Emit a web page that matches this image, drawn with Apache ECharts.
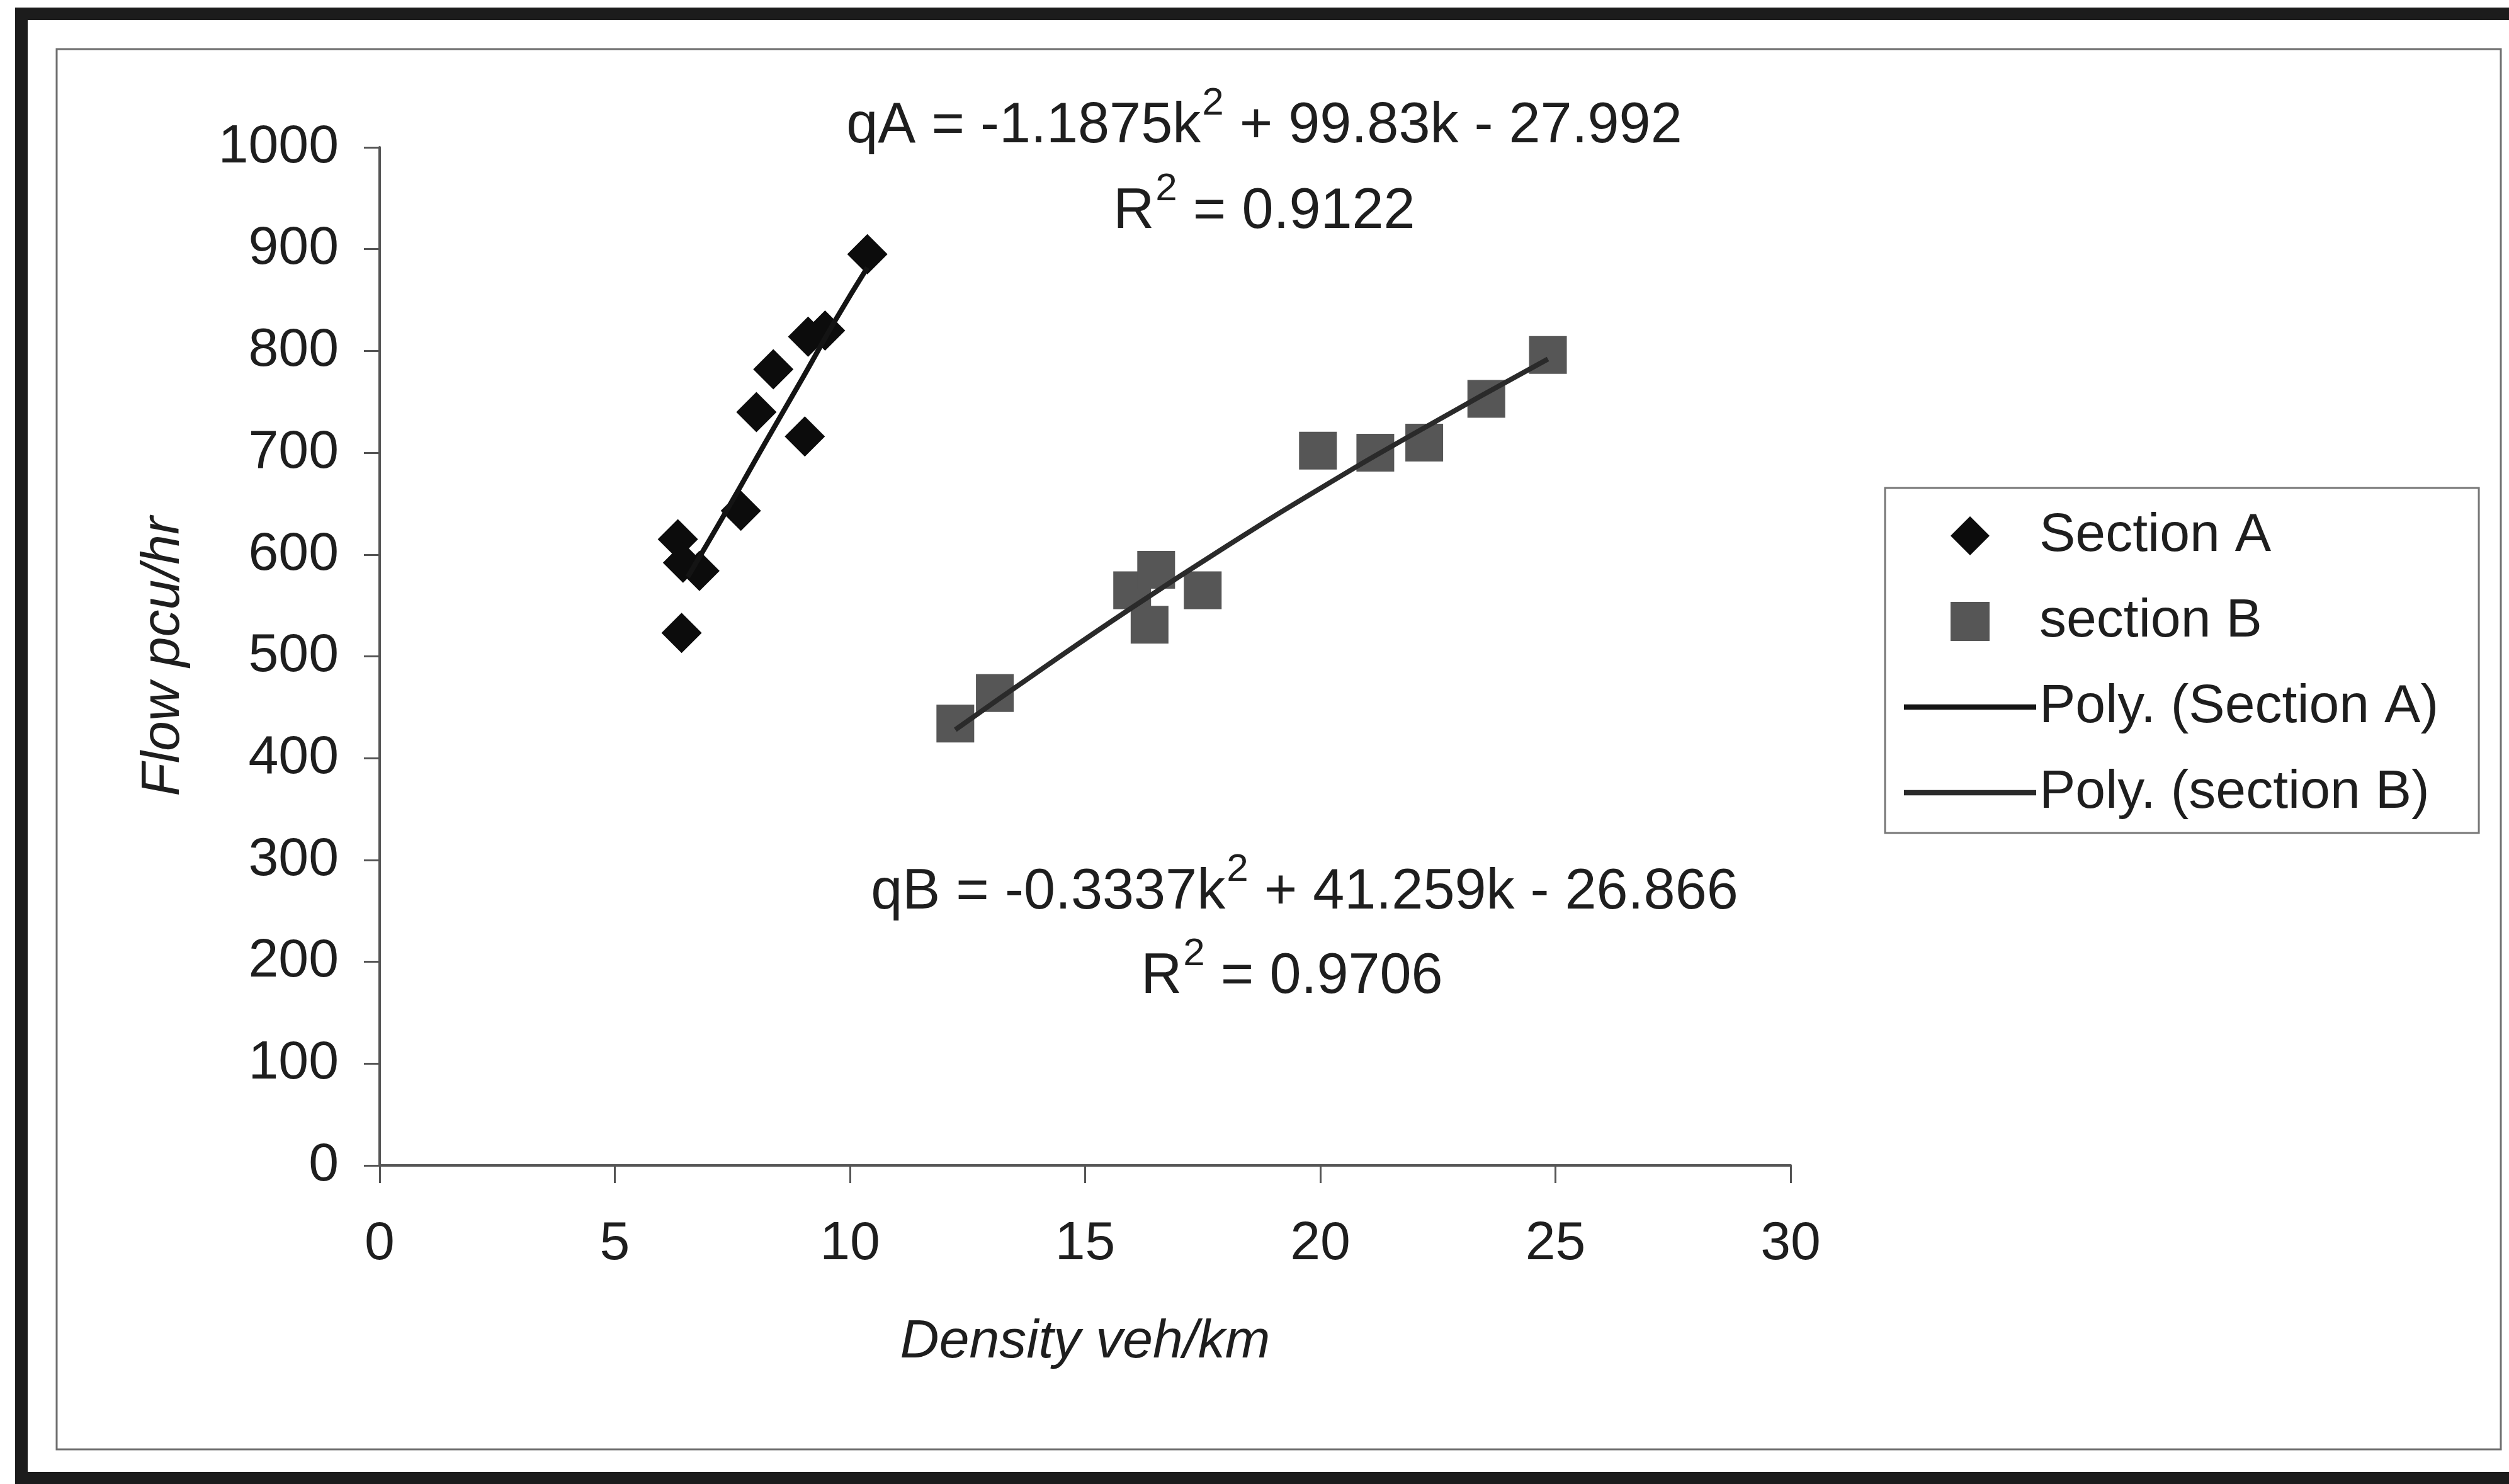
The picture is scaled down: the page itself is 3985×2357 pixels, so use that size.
<!DOCTYPE html>
<html>
<head>
<meta charset="utf-8">
<title>Flow - Density</title>
<script src="https://cdn.jsdelivr.net/npm/echarts@6/dist/echarts.min.js"></script>
<style>
  html, body { margin: 0; padding: 0; background: #fff; }
  #chart { width: 3985px; height: 2357px; }
</style>
</head>
<body>
<div id="chart"></div>
<script>
// observed points, density (veh/km) vs flow (pcu/hr)
const sectionA_k = [10.37, 9.11, 9.47, 8.37, 8.01, 9.04, 7.68, 6.34, 6.45, 6.8, 6.42];
const sectionA_q = [895, 814, 820, 782, 740, 716, 643, 615, 592, 584, 523];
const sectionB_k = [12.24, 13.08, 16.0, 16.51, 16.37, 17.5, 19.95, 21.17, 22.21, 23.53, 24.84];
const sectionB_q = [434, 464, 565, 585, 531, 565, 702, 700, 710, 753, 796];

// points
const polyA_k = [6.55, 7.4, 8.2, 9.0, 9.7, 10.37];
const polyA_q = [578, 645, 710, 774, 831, 882];
const polyB_k = [12.24, 14, 16, 18, 20, 22, 24.84];
const polyB_q = [428, 485, 548, 608, 665, 719, 792];

const xTicks = [0, 30, 5];
const yTicks = [0, 1000, 100];

const eqA = ['qA = -1.1875k', '2', ' + 99.83k - 27.992'];
const r2A = ['R', '2', ' = 0.9122'];
const eqB = ['qB = -0.3337k', '2', ' + 41.259k - 26.866'];
const r2B = ['R', '2', ' = 0.9706'];

const FONT = '"Liberation Sans", Arial, sans-serif';
const TXT = '#1e1e1e';

function pairs(xs, ys) {
  return xs.map((x, i) => [x, ys[i]]);
}

// text with a raised "2"
function eqText(parts, cx, cy) {
  return {
    type: 'text',
    x: cx,
    y: cy,
    z: 10,
    style: {
      text: '{a|' + parts[0] + '}{s|' + parts[1] + '}{a|' + parts[2] + '}',
      align: 'center',
      verticalAlign: 'middle',
      rich: {
        a: { fontFamily: FONT, fontSize: 90, lineHeight: 112, fill: TXT, verticalAlign: 'bottom' },
        s: { fontFamily: FONT, fontSize: 62, lineHeight: 112, fill: TXT, verticalAlign: 'top', padding: [0, 0, 0, 2] }
      }
    }
  };
}

const chart = echarts.init(document.getElementById('chart'), null, { renderer: 'canvas' });

const option = {
  backgroundColor: '#fff',
  animation: false,
  textStyle: { fontFamily: FONT },
  grid: { left: 603, right: 1141, top: 234, bottom: 506 },
  xAxis: {
    type: 'value',
    min: xTicks[0],
    max: xTicks[1],
    interval: xTicks[2],
    name: 'Density veh/km',
    nameLocation: 'middle',
    nameGap: 238,
    nameTextStyle: { fontSize: 86, fontStyle: 'italic', color: TXT, fontFamily: FONT },
    axisLine: { onZero: false, lineStyle: { color: '#555', width: 4 } },
    axisTick: { show: true, inside: false, length: 28, lineStyle: { color: '#555', width: 3 } },
    axisLabel: { fontSize: 86, color: TXT, margin: 82, fontFamily: FONT },
    splitLine: { show: false }
  },
  yAxis: {
    type: 'value',
    min: yTicks[0],
    max: yTicks[1],
    interval: yTicks[2],
    name: 'Flow pcu/hr',
    nameLocation: 'middle',
    nameGap: 300,
    nameTextStyle: { fontSize: 86, fontStyle: 'italic', color: TXT, fontFamily: FONT },
    axisLine: { show: true, lineStyle: { color: '#555', width: 4 } },
    axisTick: { show: true, inside: false, length: 25, lineStyle: { color: '#555', width: 3 } },
    axisLabel: { fontSize: 86, color: TXT, margin: 65, fontFamily: FONT, formatter: (v) => String(v) },
    splitLine: { show: false }
  },
  legend: {
    orient: 'vertical',
    left: 2994,
    top: 775,
    padding: [33, 64, 21, 30],
    itemWidth: 210,
    itemHeight: 62,
    itemGap: 50,
    symbolKeepAspect: true,
    borderColor: '#777',
    borderWidth: 3,
    backgroundColor: '#fff',
    textStyle: { fontSize: 86, lineHeight: 86, color: TXT, fontFamily: FONT },
    data: [
      { name: 'Section A', icon: 'path://M0,-1L1,0L0,1L-1,0Z' },
      { name: 'section B', icon: 'path://M0,0H1V1H0Z' },
      { name: 'Poly. (Section A)', icon: 'path://M0,0H200V8H0Z' },
      { name: 'Poly. (section B)', icon: 'path://M0,0H200V8H0Z' }
    ]
  },
  graphic: [
    // scanned page frame
    {
      type: 'rect', z: -1, silent: true,
      shape: { x: 34, y: 22, width: 4100, height: 2326 },
      style: { fill: null, stroke: '#1c1c1c', lineWidth: 20 }
    },
    {
      type: 'rect', z: -1, silent: true,
      shape: { x: 90, y: 78, width: 3882, height: 2224 },
      style: { fill: null, stroke: '#6e6e6e', lineWidth: 3 }
    },
    eqText(eqA, 2008, 190),
    eqText(r2A, 2008, 326),
    eqText(eqB, 2072, 1407),
    eqText(r2B, 2052, 1541)
  ],
  series: [
    {
      name: 'Section A',
      type: 'scatter',
      symbol: 'diamond',
      symbolSize: 64,
      itemStyle: { color: '#0c0c0c', opacity: 1 },
      data: pairs(sectionA_k, sectionA_q)
    },
    {
      name: 'section B',
      type: 'scatter',
      symbol: 'rect',
      symbolSize: 60,
      itemStyle: { color: '#565656', opacity: 1 },
      data: pairs(sectionB_k, sectionB_q)
    },
    {
      name: 'Poly. (Section A)',
      type: 'line',
      smooth: true,
      showSymbol: false,
      symbol: 'none',
      z: 5,
      lineStyle: { color: '#141414', width: 8 },
      itemStyle: { color: '#141414' },
      data: pairs(polyA_k, polyA_q)
    },
    {
      name: 'Poly. (section B)',
      type: 'line',
      smooth: true,
      showSymbol: false,
      symbol: 'none',
      z: 5,
      lineStyle: { color: '#2a2a2a', width: 8 },
      itemStyle: { color: '#2a2a2a' },
      data: pairs(polyB_k, polyB_q)
    }
  ]
};

chart.setOption(option);
</script>
</body>
</html>
